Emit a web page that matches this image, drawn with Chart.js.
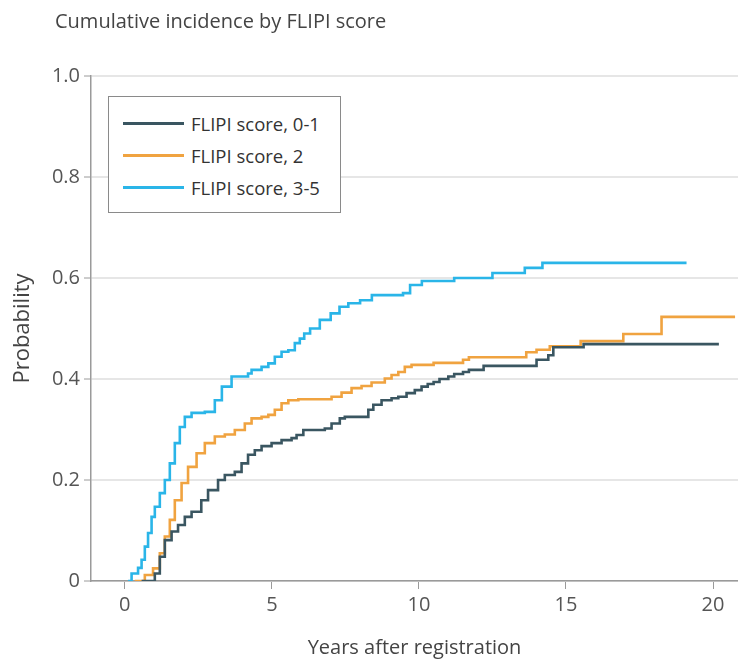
<!DOCTYPE html>
<html>
<head>
<meta charset="utf-8">
<script src="https://cdn.jsdelivr.net/npm/chart.js@4.4.1/dist/chart.umd.min.js"></script>
<style>
    body { margin: 0; background: #fff; }
    #wadah { position: relative; width: 738px; height: 662px; }
    #judul {
        position: absolute; left: 55px; top: 7px;
        font: 20px "Open Sans", sans-serif; color: #444;
    }
    #legenda {
        position: absolute; left: 108px; top: 96px; width: 233px; height: 117px;
        border: 1px solid #8a8a8a; background: #fff; box-sizing: border-box;
        padding-top: 10px;
    }
    .baris { display: flex; align-items: center; height: 32px; font: 18.5px "Open Sans", sans-serif; color: #333; }
    .garis { width: 61px; height: 3px; margin-left: 14px; margin-right: 7px; }
</style>
</head>
<body>
<div id="wadah">
    <canvas id="grafik" width="738" height="662"></canvas>
    <div id="judul">Cumulative incidence by FLIPI score</div>
    <div id="legenda"></div>
</div>
<script>
// Data
const labelSeri = ['FLIPI score, 0-1', 'FLIPI score, 2', 'FLIPI score, 3-5'];
const warnaSeri = ['#3a5661', '#f0a340', '#2ab5e8'];

const tahunSkor01 = [0.57, 1.02, 1.19, 1.36, 1.59, 1.81, 2.04, 2.27, 2.6, 2.83, 3.17, 3.4, 3.74, 3.97, 4.19, 4.42, 4.65, 4.99, 5.33, 5.67, 5.84, 6.07, 6.8, 7.03, 7.31, 7.48, 8.28, 8.45, 8.73, 9.07, 9.3, 9.58, 9.86, 10.09, 10.3, 10.5, 10.7, 11.0, 11.2, 11.5, 11.7, 12.2, 14.0, 14.4, 14.57, 15.6, 20.2];
const nilaiSkor01 = [0, 0.015, 0.048, 0.081, 0.098, 0.111, 0.127, 0.137, 0.16, 0.18, 0.2, 0.21, 0.216, 0.233, 0.25, 0.259, 0.267, 0.273, 0.279, 0.283, 0.289, 0.299, 0.302, 0.312, 0.322, 0.325, 0.339, 0.349, 0.358, 0.362, 0.365, 0.372, 0.378, 0.385, 0.39, 0.394, 0.40, 0.405, 0.41, 0.414, 0.418, 0.426, 0.438, 0.447, 0.463, 0.469, 0.469];

const tahunSkor2 = [0.34, 0.68, 0.96, 1.19, 1.36, 1.53, 1.7, 1.93, 2.15, 2.44, 2.72, 3.06, 3.4, 3.74, 4.08, 4.31, 4.65, 4.88, 5.1, 5.33, 5.56, 5.9, 7.03, 7.37, 7.71, 8.05, 8.39, 8.84, 9.07, 9.3, 9.52, 9.75, 10.5, 11.5, 11.7, 13.65, 14.0, 14.45, 15.5, 16.95, 18.25, 20.75];
const nilaiSkor2 = [0, 0.012, 0.025, 0.055, 0.088, 0.121, 0.16, 0.194, 0.226, 0.253, 0.273, 0.286, 0.29, 0.299, 0.312, 0.322, 0.325, 0.329, 0.339, 0.352, 0.358, 0.36, 0.365, 0.373, 0.382, 0.386, 0.393, 0.401, 0.408, 0.414, 0.424, 0.428, 0.432, 0.438, 0.443, 0.453, 0.458, 0.465, 0.475, 0.489, 0.523, 0.523];

const tahunSkor35 = [0.11, 0.23, 0.45, 0.57, 0.68, 0.79, 0.91, 1.02, 1.19, 1.36, 1.53, 1.7, 1.87, 2.04, 2.27, 2.72, 3.06, 3.3, 3.63, 4.19, 4.31, 4.65, 4.88, 5.1, 5.33, 5.56, 5.78, 5.95, 6.1, 6.3, 6.63, 7.0, 7.3, 7.6, 8.0, 8.4, 9.46, 9.7, 10.1, 11.2, 12.5, 13.6, 14.2, 19.1];
const nilaiSkor35 = [0, 0.015, 0.026, 0.042, 0.068, 0.095, 0.127, 0.147, 0.174, 0.2, 0.233, 0.273, 0.305, 0.325, 0.333, 0.335, 0.358, 0.385, 0.405, 0.411, 0.418, 0.424, 0.431, 0.444, 0.454, 0.457, 0.471, 0.48, 0.49, 0.50, 0.517, 0.53, 0.543, 0.55, 0.556, 0.566, 0.57, 0.586, 0.594, 0.60, 0.61, 0.62, 0.63, 0.63];

const tickX = [0, 5, 10, 15, 20];
const tickY = [0, 0.2, 0.4, 0.6, 0.8, 1.0];

function gabung(xs, ys) {
    return xs.map((x, i) => ({ x: x, y: ys[i] }));
}

const semuaSeri = [
    gabung(tahunSkor01, nilaiSkor01),
    gabung(tahunSkor2, nilaiSkor2),
    gabung(tahunSkor35, nilaiSkor35),
];

// Legenda HTML
const legenda = document.getElementById('legenda');
labelSeri.forEach((label, i) => {
    legenda.innerHTML +=
        `<div class="baris"><span class="garis" style="background:${warnaSeri[i]}"></span>${label}</div>`;
});

const fontTick = { family: '"Open Sans", sans-serif', size: 20 };

new Chart(document.getElementById('grafik').getContext('2d'), {
    type: 'line',
    data: {
        datasets: semuaSeri.map((data, i) => ({
            label: labelSeri[i],
            data: data,
            borderColor: warnaSeri[i],
            borderWidth: 2.6,
            stepped: true,
            pointRadius: 0,
            fill: false,
        }))
    },
    options: {
        responsive: false,
        animation: false,
        layout: { padding: { top: 76, right: 0, left: 0, bottom: 0 } },
        plugins: {
            legend: { display: false },
            tooltip: { enabled: false },
        },
        scales: {
            x: {
                type: 'linear',
                min: -1.15,
                max: 20.85,
                afterBuildTicks: axis => { axis.ticks = tickX.map(v => ({ value: v })); },
                afterFit: axis => { axis.height = 81; },
                border: { color: '#9a9a9a', width: 1.5 },
                grid: { drawOnChartArea: false, tickLength: 8, color: '#9a9a9a' },
                ticks: { color: '#555', font: fontTick, padding: 4 },
                title: {
                    display: true,
                    text: 'Years after registration',
                    color: '#444',
                    font: { family: '"Open Sans", sans-serif', size: 20 },
                    padding: { top: 4, bottom: 2 },
                },
            },
            y: {
                min: 0,
                max: 1,
                afterBuildTicks: axis => { axis.ticks = tickY.map(v => ({ value: v })); },
                afterFit: axis => { axis.width = 91; },
                border: { color: '#9a9a9a', width: 1.5 },
                grid: { color: '#e6e6e6', lineWidth: 2, tickLength: 7, tickColor: '#9a9a9a', tickWidth: 1 },
                ticks: {
                    color: '#555',
                    font: fontTick,
                    padding: 4,
                    callback: v => v === 0 ? '0' : v.toFixed(1),
                },
                title: {
                    display: true,
                    text: 'Probability',
                    color: '#444',
                    font: { family: '"Open Sans", sans-serif', size: 22 },
                    padding: { top: 10, bottom: 10 },
                },
            },
        },
    },
});
</script>
</body>
</html>
